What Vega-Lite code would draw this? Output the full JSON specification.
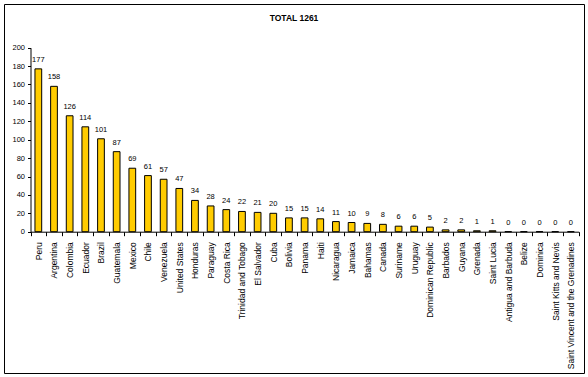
{
  "$schema": "https://vega.github.io/schema/vega-lite/v6.json",
  "width": 580,
  "height": 369,
  "padding": {"left": 4, "top": 4, "right": 4, "bottom": 4},
  "autosize": "none",
  "background": "white",
  "title": {"text": "TOTAL 1261", "anchor": "middle", "frame": "group", "offset": -18, "fontSize": 8.5, "fontWeight": "bold", "font": "Liberation Sans", "color": "black"},
  "config": {
    "view": {"stroke": "black", "strokeWidth": 1},
    "font": "Liberation Sans"
  },
  "data": {
    "values": [
      {"country": "Peru", "value": 177},
      {"country": "Argentina", "value": 158},
      {"country": "Colombia", "value": 126},
      {"country": "Ecuador", "value": 114},
      {"country": "Brazil", "value": 101},
      {"country": "Guatemala", "value": 87},
      {"country": "Mexico", "value": 69},
      {"country": "Chile", "value": 61},
      {"country": "Venezuela", "value": 57},
      {"country": "United States", "value": 47},
      {"country": "Honduras", "value": 34},
      {"country": "Paraguay", "value": 28},
      {"country": "Costa Rica", "value": 24},
      {"country": "Trinidad and Tobago", "value": 22},
      {"country": "El Salvador", "value": 21},
      {"country": "Cuba", "value": 20},
      {"country": "Bolivia", "value": 15},
      {"country": "Panama", "value": 15},
      {"country": "Haiti", "value": 14},
      {"country": "Nicaragua", "value": 11},
      {"country": "Jamaica", "value": 10},
      {"country": "Bahamas", "value": 9},
      {"country": "Canada", "value": 8},
      {"country": "Suriname", "value": 6},
      {"country": "Uruguay", "value": 6},
      {"country": "Dominican Republic", "value": 5},
      {"country": "Barbados", "value": 2},
      {"country": "Guyana", "value": 2},
      {"country": "Grenada", "value": 1},
      {"country": "Saint Lucia", "value": 1},
      {"country": "Antigua and Barbuda", "value": 0},
      {"country": "Belize", "value": 0},
      {"country": "Dominica", "value": 0},
      {"country": "Saint Kitts and Nevis", "value": 0},
      {"country": "Saint Vincent and the Grenadines", "value": 0}
    ]
  },
  "encoding": {
    "x": {
      "field": "country", "type": "nominal", "sort": null,
      "scale": {"type": "band", "paddingInner": 0, "paddingOuter": 0, "range": [26.5, 574.7]},
      "axis": {
        "title": null, "offset": -141.3, "labelAngle": -90, "labelFontSize": 8.5, "labelColor": "black",
        "labelPadding": 6, "tickBand": "extent", "tickSize": 4, "tickColor": "black", "domainColor": "black",
        "labelFont": "Liberation Sans", "grid": false, "labelOverlap": false
      }
    },
    "y": {
      "field": "value", "type": "quantitative",
      "scale": {"domain": [0, 200], "range": [227.7, 43.7], "nice": false},
      "axis": {
        "title": null, "offset": -26.5, "values": [0, 20, 40, 60, 80, 100, 120, 140, 160, 180, 200],
        "grid": false, "labelFontSize": 7.5, "labelColor": "black", "tickSize": 3, "tickColor": "black",
        "domainColor": "black", "labelPadding": 3, "labelFont": "Liberation Sans"
      }
    }
  },
  "layer": [
    {
      "mark": {"type": "bar", "width": {"band": 0.43}, "fill": "#FFCC00", "stroke": "black", "strokeWidth": 1}
    },
    {
      "mark": {"type": "text", "baseline": "bottom", "dy": -5, "fontSize": 7.5, "color": "black", "font": "Liberation Sans"},
      "encoding": {"text": {"field": "value", "type": "quantitative"}}
    }
  ]
}
